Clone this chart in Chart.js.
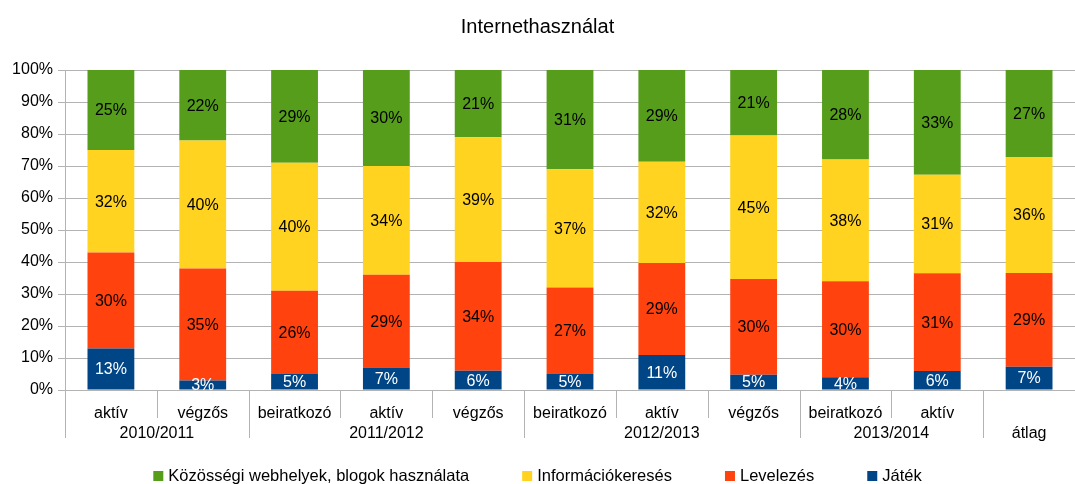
<!DOCTYPE html>
<html>
<head>
<meta charset="utf-8">
<script src="https://cdn.jsdelivr.net/npm/chart.js@4"></script>
<style>
  html, body { margin: 0; padding: 0; background: #fff; }
  #wrap { width: 1075px; height: 484px; }
</style>
</head>
<body>
<div id="wrap"><canvas id="chart"></canvas></div>
<script>
const categories = ['aktív', 'végzős', 'beiratkozó', 'aktív', 'végzős', 'beiratkozó', 'aktív', 'végzős', 'beiratkozó', 'aktív', ''];
const groupLabels = ['2010/2011', '2011/2012', '2012/2013', '2013/2014', 'átlag'];
const groupSizes = [2, 3, 3, 2, 1];

const jatek = [13, 3, 5, 7, 6, 5, 10.9, 4.8, 4, 5.9, 7.3];
const levelezes = [30, 35, 26, 29, 34, 27, 28.8, 29.9, 30, 30.6, 29.3];
const info = [32, 40, 40, 34, 39, 37, 31.6, 44.8, 38, 30.8, 36.2];
const kozossegi = [25, 22, 29, 30, 21, 31, 28.7, 20.5, 28, 32.7, 27.2];

const yTicks = [0, 10, 20, 30, 40, 50, 60, 70, 80, 90, 100];

const FONT = '"Liberation Sans", Arial, sans-serif';
const GRID = '#b3b3b3';

function getColor(name) {
    if (name === 'Játék') return '#004586';
    if (name === 'Levelezés') return '#ff420e';
    if (name === 'Információkeresés') return '#ffd320';
    if (name === 'Közösségi webhelyek, blogok használata') return '#579d1c';
}

// value labels inside bars
const barLabels = {
    id: 'barLabels',
    afterDatasetsDraw(chart) {
        const ctx = chart.ctx;
        ctx.save();
        ctx.font = '16px ' + FONT;
        ctx.textAlign = 'center';
        ctx.textBaseline = 'middle';
        chart.data.datasets.forEach((ds, i) => {
            const meta = chart.getDatasetMeta(i);
            ctx.fillStyle = ds.label === 'Játék' ? '#ffffff' : '#000000';
            meta.data.forEach((bar, j) => {
                const mid = (bar.y + bar.base) / 2;
                ctx.fillText(Math.round(ds.data[j]) + '%', bar.x, mid + 1);
            });
        });
        ctx.restore();
    }
};

// two level x axis + legend
const extras = {
    id: 'extras',
    afterDraw(chart) {
        const ctx = chart.ctx;
        const x = chart.scales.x;
        const area = chart.chartArea;
        const n = categories.length;
        const step = (area.right - area.left) / n;
        ctx.save();
        ctx.strokeStyle = GRID;
        ctx.lineWidth = 1;

        const groupStarts = [];
        let s = 0;
        groupSizes.forEach(g => { groupStarts.push(s); s += g; });

        for (let i = 0; i < n; i++) {
            const px = Math.round(area.left + i * step) + 0.5;
            const long = groupStarts.includes(i);
            ctx.beginPath();
            ctx.moveTo(px, area.bottom);
            ctx.lineTo(px, area.bottom + (long ? 48 : 28));
            ctx.stroke();
        }

        ctx.fillStyle = '#000';
        ctx.font = '16px ' + FONT;
        ctx.textAlign = 'center';
        ctx.textBaseline = 'middle';
        groupLabels.forEach((g, k) => {
            const mid = groupStarts[k] + (groupSizes[k] - 1) / 2;
            const cx = x.getPixelForValue(mid);
            ctx.fillText(g, cx, area.bottom + 44);
        });

        // legend, top series first
        ctx.font = '16.5px ' + FONT;
        const items = chart.data.datasets.slice().reverse();
        const box = 10, gap = 5, itemGap = 53;
        const widths = items.map(d => box + gap + ctx.measureText(d.label).width);
        const total = widths.reduce((a, b) => a + b, 0) + itemGap * (items.length - 1);
        let lx = (chart.width - total) / 2;
        const ly = 476;
        ctx.textAlign = 'left';
        items.forEach((d, k) => {
            ctx.fillStyle = d.backgroundColor;
            ctx.fillRect(lx, ly - 5, box, box);
            ctx.fillStyle = '#000';
            ctx.fillText(d.label, lx + box + gap, ly);
            lx += widths[k] + itemGap;
        });
        ctx.restore();
    }
};

function main() {
    const canvas = document.querySelector('#chart');
    const series = [
        ['Játék', jatek],
        ['Levelezés', levelezes],
        ['Információkeresés', info],
        ['Közösségi webhelyek, blogok használata', kozossegi]
    ];

    new Chart(canvas.getContext('2d'), {
        type: 'bar',
        data: {
            labels: categories,
            datasets: series.map(s => ({
                label: s[0],
                data: s[1],
                backgroundColor: getColor(s[0]),
                borderWidth: 0,
                barPercentage: 0.51,
                categoryPercentage: 1
            }))
        },
        options: {
            responsive: true,
            maintainAspectRatio: false,
            animation: false,
            layout: { padding: { left: 0, right: 0, top: 0, bottom: 34 } },
            plugins: {
                legend: { display: false },
                tooltip: { enabled: false },
                title: {
                    display: true,
                    text: 'Internethasználat',
                    color: '#000',
                    font: { family: FONT, size: 20, weight: 'normal' },
                    padding: { top: 15, bottom: 31 }
                }
            },
            scales: {
                x: {
                    stacked: true,
                    grid: { display: false, drawTicks: false },
                    border: { display: false },
                    ticks: {
                        color: '#000',
                        font: { family: FONT, size: 16 },
                        padding: 14,
                        maxRotation: 0,
                        autoSkip: false
                    },
                    afterFit(scale) { scale.height = 60; }
                },
                y: {
                    stacked: true,
                    min: 0,
                    max: 100,
                    afterBuildTicks(scale) { scale.ticks = yTicks.map(v => ({ value: v })); },
                    grid: { color: GRID, tickLength: 7 },
                    border: { color: GRID },
                    ticks: {
                        color: '#000',
                        font: { family: FONT, size: 16 },
                        padding: 5,
                        callback: v => v + '%'
                    },
                    afterFit(scale) { scale.width = 65; }
                }
            }
        },
        plugins: [barLabels, extras]
    });
}

main();
</script>
</body>
</html>
